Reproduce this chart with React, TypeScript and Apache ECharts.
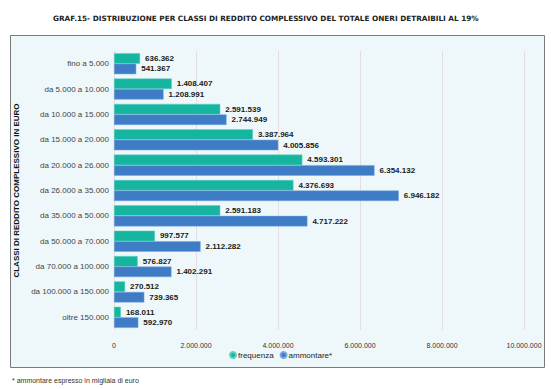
import React, { useEffect, useRef } from "react";
import * as echarts from "echarts";

const categories = [
  "fino a 5.000",
  "da 5.000 a 10.000",
  "da 10.000 a 15.000",
  "da 15.000 a 20.000",
  "da 20.000 a 26.000",
  "da 26.000 a 35.000",
  "da 35.000 a 50.000",
  "da 50.000 a 70.000",
  "da 70.000 a 100.000",
  "da 100.000 a 150.000",
  "oltre 150.000",
];
const frequenza = [636362, 1408407, 2591539, 3387964, 4593301, 4376693, 2591183, 997577, 576827, 270512, 168011];
const ammontare = [541367, 1208991, 2744949, 4005856, 6354132, 6946182, 4717222, 2112282, 1402291, 739365, 592970];
const xTicks = { min: 0, max: 10000000, interval: 2000000 };

const fmt = (v: number) => String(Math.round(v)).replace(/\B(?=(\d{3})+(?!\d))/g, ".");

const FONT = "'Liberation Sans', Arial, sans-serif";

export default function App() {
  const ref = useRef<HTMLDivElement>(null);
  useEffect(() => {
    if (!ref.current) return;
    const chart = echarts.init(ref.current, undefined, { renderer: "svg" });
    const label = {
      show: true,
      position: "right" as const,
      distance: 5,
      fontFamily: FONT,
      fontSize: 8,
      fontWeight: "bold" as const,
      color: "#1a1a1a",
      formatter: (p: any) => fmt(p.value),
    };
    chart.setOption({
      animation: false,
      backgroundColor: "#ffffff",
      textStyle: { fontFamily: FONT },
      title: {
        text: "GRAF.15- DISTRIBUZIONE PER CLASSI DI REDDITO COMPLESSIVO DEL TOTALE ONERI DETRAIBILI AL 19%",
        left: 48,
        top: 10,
        textStyle: { fontFamily: "'DejaVu Sans', sans-serif", fontSize: 7.3, fontWeight: "bold", color: "#222" },
      },
      graphic: [
        {
          type: "rect",
          z: -10,
          shape: { x: 10.5, y: 35.5, width: 534, height: 332 },
          style: { fill: "#eef8fb", stroke: "#7a7a7a", lineWidth: 1 },
        },
        {
          type: "text",
          left: 12,
          top: 377,
          style: { text: "* ammontare espresso in migliaia di euro", fontFamily: FONT, fontSize: 7, fill: "#333" },
        },
      ],
      legend: {
        data: ["frequenza", "ammontare*"],
        bottom: 25,
        left: 224,
        icon: "circle",
        itemWidth: 6,
        itemHeight: 6,
        itemGap: 6,
        textStyle: { fontFamily: FONT, fontSize: 8, color: "#222", padding: [0, 0, 0, -3] },
      },
      grid: { left: 114, right: 27, top: 51, bottom: 59, containLabel: false },
      xAxis: {
        type: "value",
        min: xTicks.min,
        max: xTicks.max,
        interval: xTicks.interval,
        axisLine: { show: false },
        axisTick: { show: false },
        splitLine: { show: true, lineStyle: { color: "#e6dde2", width: 1 } },
        axisLabel: { fontFamily: FONT, fontSize: 7, color: "#333", margin: 12, formatter: (v: number) => fmt(v) },
      },
      yAxis: {
        type: "category",
        data: categories,
        inverse: true,
        axisLine: { show: false },
        axisTick: { show: false },
        axisLabel: { fontFamily: FONT, fontSize: 8, color: "#444", margin: 5 },
        name: "CLASSI DI REDDITO COMPLESSIVO IN EURO",
        nameLocation: "middle",
        nameGap: 92,
        nameRotate: 90,
        nameTextStyle: { fontFamily: FONT, fontSize: 8, fontWeight: "bold", color: "#111" },
      },
      series: [
        {
          name: "frequenza",
          type: "bar",
          data: frequenza,
          barGap: "0%",
          barCategoryGap: "17%",
          itemStyle: { color: "#16b5a0", borderColor: "#5fd0c0", borderWidth: 0.5 },
          label,
        },
        {
          name: "ammontare*",
          type: "bar",
          data: ammontare,
          barGap: "0%",
          barCategoryGap: "17%",
          itemStyle: { color: "#3f7cc6", borderColor: "#7aa6dc", borderWidth: 0.5 },
          label,
        },
      ],
    });
    return () => chart.dispose();
  }, []);
  return <div ref={ref} style={{ position: "fixed", left: 0, top: 0, width: 551, height: 389 }} />;
}
